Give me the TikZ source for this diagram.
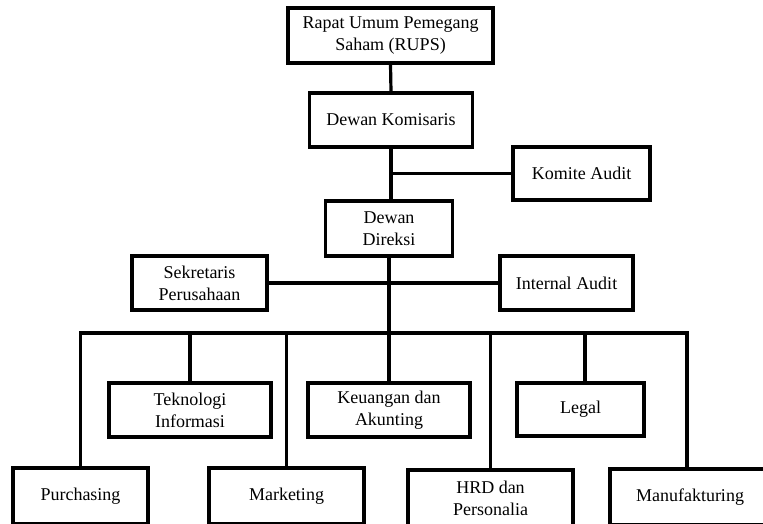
\documentclass[tikz,border=0pt]{standalone}
\usepackage{fontspec}
\setmainfont{Liberation Serif}
\begin{document}
\begin{tikzpicture}[x=1pt,y=-1pt,
  box/.style={draw=black, line width=3.2pt, fill=white, rectangle, align=center,
    inner sep=0pt, font=\fontsize{18}{22}\selectfont},
  conn/.style={line width=3.2pt, line cap=rect}]
\useasboundingbox (0,0) rectangle (763,523);
\clip (0,0) rectangle (763,523);
\fill[white] (0,0) rectangle (763,523);
% nodes
\node[box, minimum width=205pt, minimum height=55pt] (rups) at (390.5,35.5) {Rapat Umum Pemegang\\Saham (RUPS)};
\node[box, minimum width=163pt, minimum height=54pt] (kom) at (391,120) {Dewan Komisaris};
\node[box, minimum width=137pt, minimum height=53pt] (audit) at (581.5,173.5) {Komite Audit};
\node[box, minimum width=127pt, minimum height=55pt] (dir) at (389,228.5) {Dewan\\Direksi};
\node[box, minimum width=135pt, minimum height=54pt] (sek) at (199.5,283) {Sekretaris\\Perusahaan};
\node[box, minimum width=133pt, minimum height=54pt] (ia) at (566.5,283) {Internal Audit};
\node[box, minimum width=162pt, minimum height=54pt] (ti) at (190,410) {Teknologi\\Informasi};
\node[box, minimum width=162pt, minimum height=54pt] (keu) at (389,410) {Keuangan dan\\Akunting};
\node[box, minimum width=127pt, minimum height=53pt] (legal) at (580.5,409.5) {Legal};
\node[box, minimum width=135pt, minimum height=56pt] (pur) at (80.5,496) {Purchasing};
\node[box, minimum width=155pt, minimum height=56pt] (mkt) at (286.5,496) {Marketing};
\node[box, minimum width=165pt, minimum height=56pt] (hrd) at (490.5,498) {HRD dan\\Personalia};
\node[box, minimum width=160pt, minimum height=56pt] (man) at (690,497) {Manufakturing};
\coordinate (bus) at (389,333);
% connectors
\draw[conn] (rups.south) -- (kom.north);
\draw[conn] (kom.south) -- (kom.south |- dir.north);
\draw[conn] (kom.south |- audit.west) -- (audit.west);
\draw[conn] (dir.south) -- (dir.south |- bus);
\draw[conn] (sek.east) -- (ia.west);
\draw[conn] (pur.north) |- (bus);
\draw[conn] (bus) -| ([xshift=-3pt]man.north);
\draw[conn] (ti.north) -- (ti.north |- bus);
\draw[conn] (mkt.north) -- (mkt.north |- bus);
\draw[conn] (keu.north) -- (keu.north |- bus);
\draw[conn] (hrd.north) -- (hrd.north |- bus);
\draw[conn] ([xshift=4.5pt]legal.north) -- ([xshift=4.5pt]legal.north |- bus);
\end{tikzpicture}
\end{document}
